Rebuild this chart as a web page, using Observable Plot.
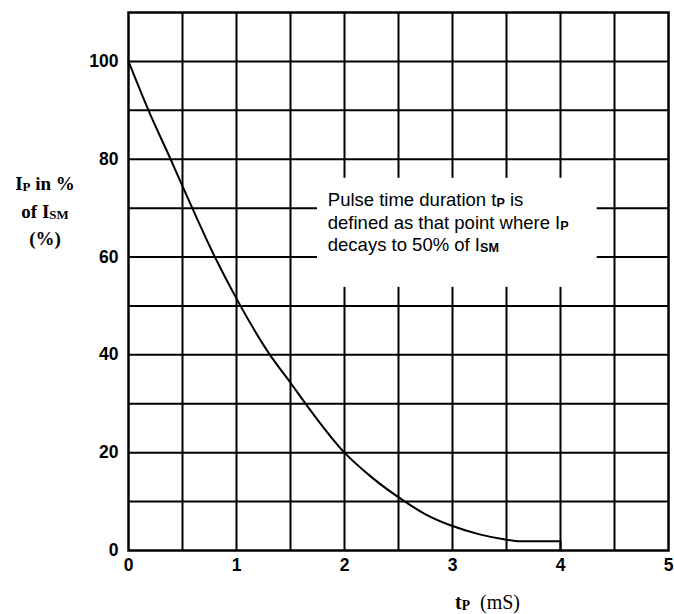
<!DOCTYPE html>
<html><head><meta charset="utf-8">
<script src="https://cdn.jsdelivr.net/npm/d3@7"></script>
<script src="https://cdn.jsdelivr.net/npm/@observablehq/plot@0.6"></script>
<style>body{margin:0;background:#fff} #chart{width:674px;height:614px}</style>
</head><body><div id="chart"></div>
<script>
// Curve data
const tP = [0, 0.185, 0.39, 0.5, 0.8, 1.0, 1.31, 1.5, 1.64, 2.0, 2.25, 2.56, 2.75, 3.0, 3.25, 3.5, 3.6];
const IP = [100, 90, 80, 74.5, 60, 51.5, 40, 34.3, 30, 20, 15, 10, 7.4, 5, 3.3, 2.2, 1.9];
const tailT = [3.6, 4, 4];
const tailI = [1.9, 1.9, 0];
const xTicks = [0, 1, 2, 3, 4, 5];
const yTicks = [0, 20, 40, 60, 80, 100];
const xGrid = [0.5, 1, 1.5, 2, 2.5, 3, 3.5, 4, 4.5];
const yGrid = [10, 20, 30, 40, 50, 60, 70, 80, 90, 100];
const noteBox = [{x1: 1.75, x2: 4.34, y1: 53.8, y2: 76.1}];
const noteAnchor = {x: 1.85, y: 70.3};

const curve = tP.map((t, i) => ({t, v: IP[i]}));
const tail = tailT.map((t, i) => ({t, v: tailI[i]}));

const plot = Plot.plot({
  width: 674, height: 614,
  marginLeft: 128, marginRight: 6, marginTop: 12, marginBottom: 64,
  x: {domain: [0, 5]},
  y: {domain: [0, 110]},
  style: {fontFamily: "'Liberation Sans', Arial, sans-serif", background: "#fff", color: "#000"},
  marks: [
    Plot.ruleX(xGrid, {stroke: "#000", strokeWidth: 2}),
    Plot.ruleY(yGrid, {stroke: "#000", strokeWidth: 2}),
    Plot.rect(noteBox, {x1: "x1", x2: "x2", y1: "y1", y2: "y2", fill: "#fff"}),
    Plot.frame({stroke: "#000", strokeWidth: 2.5}),
    Plot.line(curve, {x: "t", y: "v", curve: "monotone-x", stroke: "#000", strokeWidth: 2}),
    Plot.line(tail, {x: "t", y: "v", stroke: "#000", strokeWidth: 2}),
    Plot.axisX(xTicks, {tickSize: 0, tickPadding: 8, fontSize: 17.5, fontWeight: "bold", label: null, tickFormat: d => String(d)}),
    Plot.axisY(yTicks, {tickSize: 0, tickPadding: 10, fontSize: 17.5, fontWeight: "bold", label: null, tickFormat: d => String(d)})
  ]
});
document.getElementById("chart").appendChild(plot);

const svg = d3.select(plot);
const sx = plot.scale("x"), sy = plot.scale("y");

function addLine(parent, x, y, parts, opts) {
  const t = parent.append("text").attr("x", x).attr("y", y)
    .attr("font-family", opts.family).attr("font-size", opts.size)
    .attr("font-weight", opts.weight || "normal").attr("fill", "#000")
    .attr("text-anchor", opts.anchor || "start")
    .style("white-space", "pre");
  parts.forEach(p => {
    const s = t.append("tspan").text(p.t);
    if (p.sub) s.attr("font-size", opts.size * 0.68).attr("dy", 1).attr("font-weight", "bold");
    if (p.back) s.attr("dy", -1);
    if (p.weight) s.attr("font-weight", p.weight);
  });
  return t;
}

// annotation text
const nx = sx.apply(noteAnchor.x), ny = sy.apply(noteAnchor.y);
const sans = {family: "'Liberation Sans', Arial, sans-serif", size: 18.5, weight: "normal"};
addLine(svg, nx, ny, [{t: "Pulse time duration t"}, {t: "P", sub: true}, {t: " is", back: true, weight: "normal"}], sans);
addLine(svg, nx, ny + 22.5, [{t: "defined as that point where I"}, {t: "P", sub: true}], sans);
addLine(svg, nx, ny + 45, [{t: "decays to 50% of I"}, {t: "SM", sub: true}], sans);

// y axis label
const serif = {family: "'Liberation Serif', 'Times New Roman', serif", size: 19, weight: "bold", anchor: "middle"};
addLine(svg, 45, 190, [{t: "I"}, {t: "P", sub: true}, {t: " in %", back: true}], serif);
addLine(svg, 45, 218, [{t: "of I"}, {t: "SM", sub: true}], serif);
addLine(svg, 45, 245, [{t: "(%)"}], serif);

// x axis label
const serifX = {family: "'Liberation Serif', 'Times New Roman', serif", size: 20, weight: "bold"};
addLine(svg, 455, 609, [{t: "t"}, {t: "P", sub: true}, {t: "  (mS)", back: true, weight: "normal"}], serifX);
</script>
</body></html>
